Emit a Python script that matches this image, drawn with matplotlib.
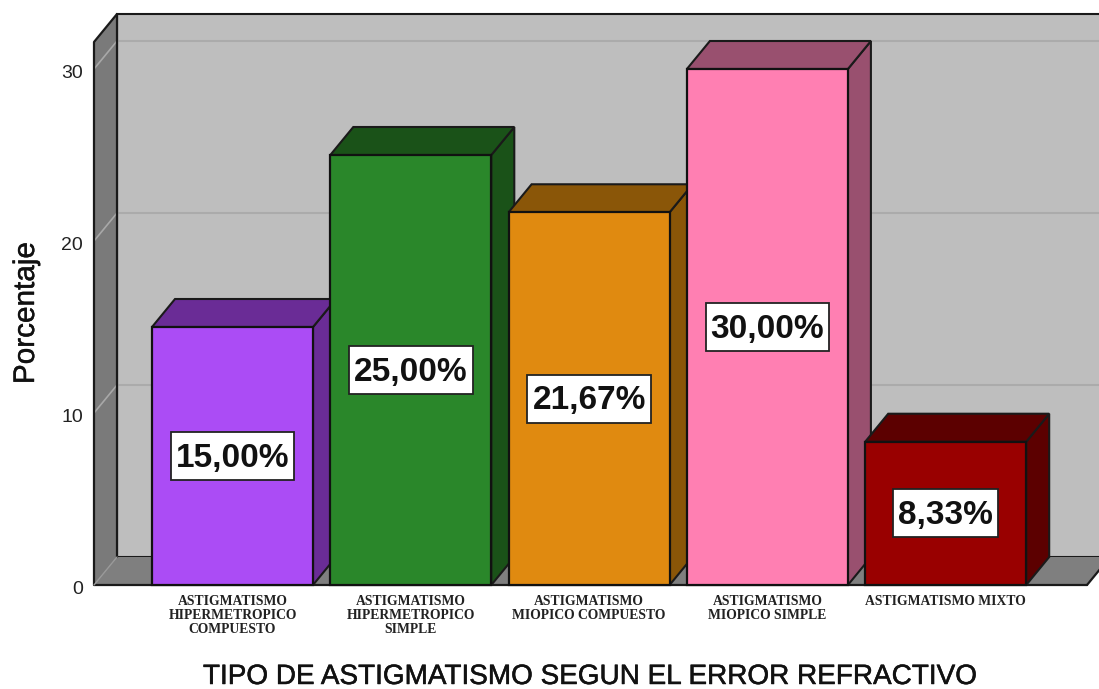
import matplotlib
matplotlib.use("Agg")
import matplotlib.pyplot as plt
import matplotlib.patheffects as pe
from matplotlib.patches import Polygon, Rectangle
from matplotlib.transforms import ScaledTranslation

# Datos del grafico
categorias = [
    "ASTIGMATISMO\nHIPERMETROPICO\nCOMPUESTO",
    "ASTIGMATISMO\nHIPERMETROPICO\nSIMPLE",
    "ASTIGMATISMO\nMIOPICO COMPUESTO",
    "ASTIGMATISMO\nMIOPICO SIMPLE",
    "ASTIGMATISMO MIXTO",
]
porcentajes = [15.00, 25.00, 21.67, 30.00, 8.33]
etiquetas = ["15,00%", "25,00%", "21,67%", "30,00%", "8,33%"]
colores = ["#AB4CF5", "#2A872A", "#E08A10", "#FF7FB2", "#990000"]
colores_top = ["#6A2C96", "#1A5218", "#8A5608", "#99506F", "#5C0000"]
marcas_y = [0, 10, 20, 30]

W, H = 1099, 689
paso = 178.3
escala_y = 17.2
fig = plt.figure(figsize=(W / 100, H / 100), dpi=100)
# ejes alineados con el piso frontal y la marca de 30
ax = fig.add_axes([94 / W, 1 - 585 / H, (1087 - 94) / W, (585 - 69) / H])
ax.set_xlim((94 - 232.5) / paso, (1087 - 232.5) / paso)
ax.set_ylim(0, 30)

# profundidad del efecto 3D
dx = 23 / paso
dy = 28 / escala_y
ancho = 161 / paso
techo = 31.57
x0, x1 = ax.get_xlim()
borde = "#1a1a1a"


def poligono(puntos, color, z, lw=1.5, ec=borde):
    ax.add_patch(Polygon(puntos, closed=True, fc=color, ec=ec, lw=lw, zorder=z, clip_on=False))


def linea(xs, ys, color=borde, lw=1.6, z=2.6):
    ax.plot(xs, ys, color=color, lw=lw, zorder=z, clip_on=False, solid_capstyle="round")


# paredes y piso
poligono([(x0 + dx, dy), (x1 + dx * 2, dy), (x1 + dx * 2, techo + dy), (x0 + dx, techo + dy)], "#BEBEBE", 1)
poligono([(x0, 0), (x0 + dx, dy), (x0 + dx, techo + dy), (x0, techo)], "#7A7A7A", 2, ec="none")
poligono([(x0, 0), (x0 + dx, dy), (x1 + dx, dy), (x1, 0)], "#7F7F7F", 2, ec="none")

# lineas de la grilla
for v in marcas_y[1:]:
    linea([x0 + dx, x1 + dx * 2], [v + dy, v + dy], color="#ABABAB", lw=1.5, z=1.5)
    linea([x0, x0 + dx], [v, v + dy], color="#A8A8A8", lw=1.2, z=2.5)

# contornos de paredes y piso
linea([x0, x1], [0, 0])
linea([x1, x1 + dx], [0, dy])
linea([x0, x0, x0 + dx, x0 + dx], [0, techo, techo + dy, dy])
linea([x0, x0 + dx], [0, dy], color="#999999", lw=1.0)

# barras
textos = []
for i, v in enumerate(porcentajes):
    izq = i - ancho / 2
    der = i + ancho / 2
    poligono([(der, 0), (der + dx, dy), (der + dx, v + dy), (der, v)], colores_top[i], 3)
    poligono([(izq, v), (izq + dx, v + dy), (der + dx, v + dy), (der, v)], colores_top[i], 3)
    ax.bar(i, v, width=ancho, color=colores[i], edgecolor="#111111", linewidth=1.6, zorder=4, clip_on=False)
    t = ax.annotate(etiquetas[i], xy=(i, v / 2), xytext=(0, -1.5), textcoords="offset points",
                    ha="center", va="center", fontsize=24, fontweight="bold",
                    family="Liberation Sans", color="#111111", zorder=6)
    textos.append(t)

# cuadros blancos de las etiquetas, segun el ancho del texto
fig.canvas.draw()
for i, v in enumerate(porcentajes):
    ancho_txt = textos[i].get_window_extent().width
    bw = (ancho_txt + 10) / paso
    bh = 48 / escala_y
    ax.add_patch(Rectangle((i - bw / 2, v / 2 - bh / 2), bw, bh, fc="white", ec="#222222", lw=1.3, zorder=5))

# ejes
for s in ax.spines.values():
    s.set_visible(False)
ax.patch.set_visible(False)
ax.set_yticks(marcas_y)
ax.set_yticklabels([str(v) for v in marcas_y], family="Liberation Sans", fontsize=14, color="#222222")
ax.set_xticks(range(len(categorias)))
ax.set_xticklabels(categorias, family="Liberation Serif", fontweight="bold", fontsize=9.8,
                   color="#222222", linespacing=1.12, va="top")
ax.tick_params(axis="y", length=0, pad=8)
ax.tick_params(axis="x", length=0, pad=7)
for lab in ax.get_yticklabels():
    lab.set_transform(lab.get_transform() + ScaledTranslation(0, -0.025, fig.dpi_scale_trans))

fig.text(26 / W, 1 - 313 / H, "Porcentaje", rotation=90, ha="center", va="center",
         family="Liberation Sans", fontsize=21.4, color="#111111",
         path_effects=[pe.withStroke(linewidth=0.3, foreground="#111111")])
fig.text(589 / W, 1 - 677 / H, "TIPO DE ASTIGMATISMO SEGUN EL ERROR REFRACTIVO", ha="center", va="center",
         family="Liberation Sans", fontsize=20.1, color="#111111",
         path_effects=[pe.withStroke(linewidth=0.35, foreground="#111111")])

fig.savefig("out.png", dpi=100)
